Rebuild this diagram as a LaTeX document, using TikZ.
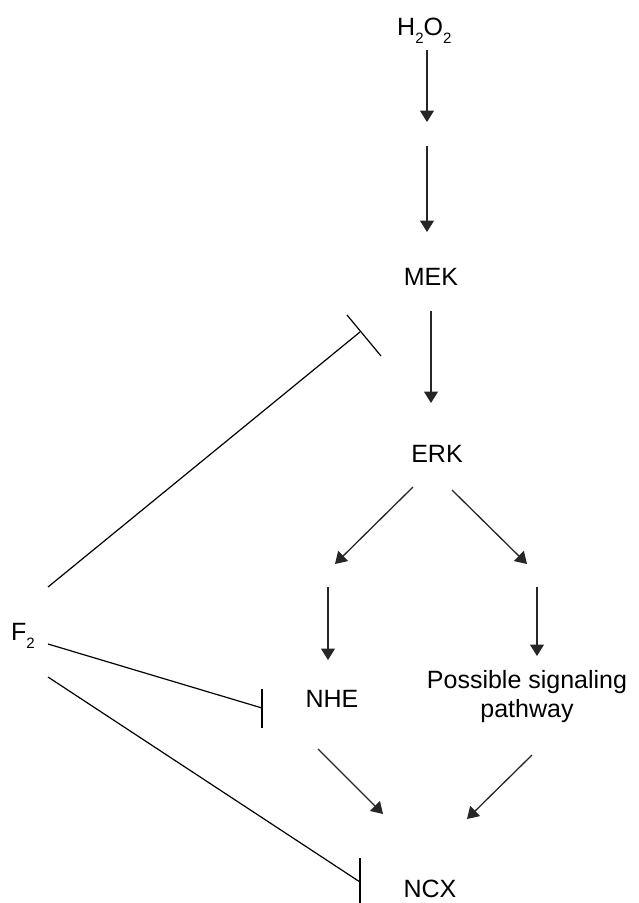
\documentclass[tikz,border=0pt]{standalone}
\usepackage{fontspec}
\setmainfont{Liberation Sans}
\usetikzlibrary{arrows.meta}
\newcommand{\subtwo}{\raisebox{-8.5pt}{\fontsize{15}{15}\selectfont 2}}
\begin{document}
\begin{tikzpicture}[x=1pt,y=-1pt,
  lbl/.style={inner sep=0pt,font=\fontsize{25}{29}\selectfont},
  act/.style={line width=1.3pt,draw=black!85,-{Triangle[length=11.5pt,width=14pt]}},
  inh/.style={line width=1.2pt,draw=black},
  barline/.style={line width=1.2pt,draw=black}]
\useasboundingbox (0,0) rectangle (638,903);
% labels
\node[lbl,anchor=base west] (h2o2) at (397,35) {H\subtwo O\subtwo};
\node[lbl,anchor=base] (mek) at (431,285) {MEK};
\node[lbl,anchor=base] (erk) at (437,462) {ERK};
\node[lbl,anchor=base] (nhe) at (332,707) {NHE};
\node[lbl,anchor=base,align=center] (psp) at (527,717) {Possible signaling\\pathway};
\node[lbl,anchor=base] (ncx) at (430,897) {NCX};
\node[lbl,anchor=base west] (f2) at (11,640) {F\subtwo};
% connector ends
\coordinate (a1s) at (427,50);  \coordinate (a1e) at (427,122);
\coordinate (a2s) at (427,146); \coordinate (a2e) at (427,232);
\coordinate (a3s) at (431,311); \coordinate (a3e) at (431,403);
\coordinate (a4s) at (413,487); \coordinate (a4e) at (335,564);
\coordinate (a5s) at (452,490); \coordinate (a5e) at (527,564);
\coordinate (a6s) at (328,587); \coordinate (a6e) at (328,660);
\coordinate (a7s) at (537,587); \coordinate (a7e) at (537,656);
\coordinate (a8s) at (318,749); \coordinate (a8e) at (383,814);
\coordinate (a9s) at (532,755); \coordinate (a9e) at (467,819);
\coordinate (i1s) at (48,587);  \coordinate (i1e) at (360,332);
\coordinate (b1a) at (347,315); \coordinate (b1b) at (381,356);
\coordinate (i2s) at (48,644);  \coordinate (i2e) at (262,708);
\coordinate (b2a) at (262,689); \coordinate (b2b) at (262,728);
\coordinate (i3s) at (48,677);  \coordinate (i3e) at (360,882);
\coordinate (b3a) at (360,858); \coordinate (b3b) at (360,908);
% activation arrows
\draw[act] (a1s) -- (a1e);
\draw[act] (a2s) -- (a2e);
\draw[act] (a3s) -- (a3e);
\draw[act] (a4s) -- (a4e);
\draw[act] (a5s) -- (a5e);
\draw[act] (a6s) -- (a6e);
\draw[act] (a7s) -- (a7e);
\draw[act] (a8s) -- (a8e);
\draw[act] (a9s) -- (a9e);
% inhibition lines
\draw[inh] (i1s) -- (i1e);
\draw[barline] (b1a) -- (b1b);
\draw[inh] (i2s) -- (i2e);
\draw[barline] (b2a) -- (b2b);
\draw[inh] (i3s) -- (i3e);
\draw[barline] (b3a) -- (b3b);
\end{tikzpicture}
\end{document}
